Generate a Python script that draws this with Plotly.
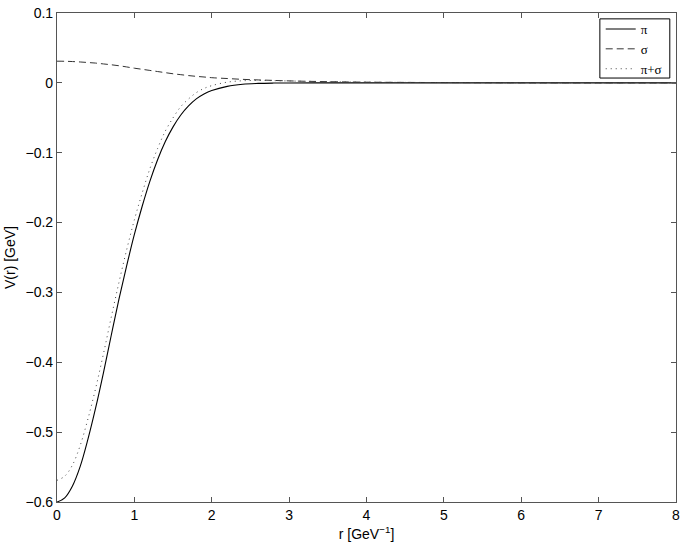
import plotly.graph_objects as go

r = [0, 0.1, 0.2, 0.3, 0.4, 0.5, 0.6, 0.7, 0.8, 0.9, 1.0, 1.1, 1.2, 1.3, 1.4, 1.5,
     1.6, 1.7, 1.8, 1.9, 2.0, 2.2, 2.4, 2.6, 2.8, 3.0, 3.5, 4.0, 5.0, 6.0, 7.0, 8.0]

v_pi = [-0.600, -0.594, -0.577, -0.549, -0.510, -0.465, -0.415, -0.362, -0.310, -0.262,
        -0.217, -0.177, -0.141, -0.110, -0.084, -0.063, -0.046, -0.033, -0.023, -0.016,
        -0.011, -0.005, -0.002, -0.0008, -0.0003, -0.0001, 0.0, 0.0, 0.0, 0.0, 0.0, 0.0]

v_sigma = [0.0310, 0.0309, 0.0305, 0.0299, 0.0291, 0.0283, 0.0271, 0.0259, 0.0245, 0.0228,
           0.0210, 0.0194, 0.0178, 0.0162, 0.0146, 0.0130, 0.0117, 0.0104, 0.0093, 0.0084,
           0.0074, 0.0062, 0.0050, 0.0042, 0.0035, 0.0028, 0.0017, 0.0010, 0.0004, 0.0001, 0.0, 0.0]

v_sum = [-0.569, -0.563, -0.547, -0.519, -0.481, -0.437, -0.388, -0.336, -0.286, -0.239,
         -0.196, -0.158, -0.123, -0.094, -0.069, -0.050, -0.034, -0.023, -0.014, -0.008,
         -0.004, 0.001, 0.003, 0.0034, 0.0032, 0.0027, 0.0017, 0.0010, 0.0004, 0.0001, 0.0, 0.0]

x_ticks = [0, 1, 2, 3, 4, 5, 6, 7, 8]
y_ticks = [0.1, 0, -0.1, -0.2, -0.3, -0.4, -0.5, -0.6]
y_labels = ["0.1", "0", "\u22120.1", "\u22120.2", "\u22120.3", "\u22120.4", "\u22120.5", "\u22120.6"]

fig = go.Figure()
fig.add_trace(go.Scatter(x=r, y=v_pi, mode="lines", name="\u03c0", line_shape="spline",
                         line=dict(color="black", width=1.1)))
fig.add_trace(go.Scatter(x=r, y=v_sigma, mode="lines", name="\u03c3", line_shape="spline",
                         line=dict(color="#333333", width=1, dash="7px,4px")))
fig.add_trace(go.Scatter(x=r, y=v_sum, mode="lines", name="\u03c0+\u03c3", line_shape="spline",
                         line=dict(color="#444444", width=1, dash="1px,4px")))

font_ax = dict(family="Liberation Sans, Arial", size=14, color="black")
axis_common = dict(showline=True, linecolor="#555555", linewidth=1.2, mirror="ticks",
                   ticks="inside", ticklen=5, tickcolor="#555555", showgrid=False,
                   zeroline=False, automargin=False, tickfont=font_ax)

fig.update_xaxes(range=[0, 8], tickvals=x_ticks, ticktext=[str(t) for t in x_ticks],
                 title=dict(text="r [GeV<sup>\u22121</sup>]", standoff=7, font=font_ax),
                 **axis_common)
fig.update_yaxes(range=[-0.6, 0.1], tickvals=y_ticks, ticktext=y_labels,
                 title=dict(text="V(r) [GeV]", standoff=6, font=font_ax),
                 **axis_common)

# legend frame
fig.add_shape(type="rect", xref="paper", yref="paper", x0=0.877, x1=0.990, y0=0.867, y1=0.988,
              line=dict(color="black", width=1), fillcolor="white", layer="above")

fig.update_layout(
    width=686, height=547,
    margin=dict(l=57, r=10, t=13, b=45),
    plot_bgcolor="white", paper_bgcolor="white",
    showlegend=True,
    legend=dict(x=0.985, y=0.998, xanchor="right", yanchor="top",
                borderwidth=0, bgcolor="rgba(0,0,0,0)",
                font=dict(family="Liberation Serif, Times New Roman", size=13, color="black"),
                tracegroupgap=0, itemwidth=30),
)

fig.write_html("out.html", config={"displayModeBar": False},
               post_script="document.body.style.margin='0';document.body.style.overflow='hidden';")
